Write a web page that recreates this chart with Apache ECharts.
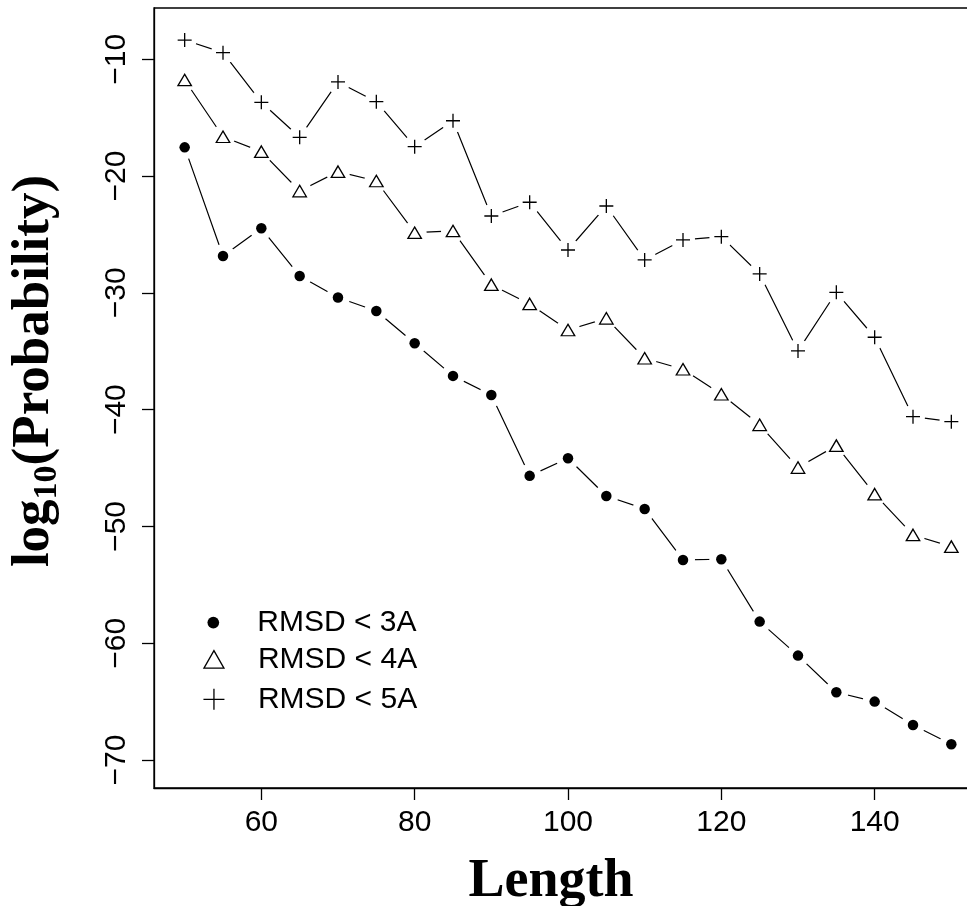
<!DOCTYPE html>
<html><head><meta charset="utf-8">
<script src="https://cdn.jsdelivr.net/npm/echarts@6/dist/echarts.min.js"></script>
<style>html,body{margin:0;padding:0;background:#fff}#c{width:967px;height:906px}</style>
</head><body><div id="c"></div>
<script>
const lengths = [50,55,60,65,70,75,80,85,90,95,100,105,110,115,120,125,130,135,140,145,150];
const rmsd3 = [-17.54,-26.84,-24.47,-28.55,-30.4,-31.55,-34.32,-37.11,-38.74,-45.67,-44.16,-47.39,-48.5,-52.87,-52.81,-58.15,-61.06,-64.2,-65.0,-67.0,-68.65];
const rmsd4 = [-11.77,-16.63,-17.91,-21.28,-19.62,-20.42,-24.85,-24.7,-29.3,-30.95,-33.18,-32.18,-35.6,-36.54,-38.68,-41.3,-44.96,-43.08,-47.24,-50.73,-51.73];
const rmsd5 = [-8.35,-9.43,-13.68,-16.68,-11.94,-13.63,-17.48,-15.26,-23.42,-22.24,-26.33,-22.56,-27.18,-25.47,-25.19,-28.38,-34.97,-29.95,-33.8,-40.6,-41.03];
const xTicks = [60,80,100,120,140];
const yTicks = [-70,-60,-50,-40,-30,-20,-10];
const seriesNames = ['RMSD < 3A','RMSD < 4A','RMSD < 5A'];
const xTitle = 'Length';

const pairs = arr => lengths.map((x,i)=>[x, arr[i]]);
const PLUS = 'path://M0,-7L0,7M-7,0L7,0';
const markers = [
  {symbol:'circle', size:10.5, lw:11.7, lh:11.7, itemStyle:{color:'#000', opacity:1}},
  {symbol:'triangle', size:[13.5,11.5], lw:20, lh:17.5, itemStyle:{color:'#fff', borderColor:'#000', borderWidth:1.3, opacity:1}},
  {symbol:PLUS, size:14, lw:21, lh:21, itemStyle:{color:'rgba(0,0,0,0)', borderColor:'#000', borderWidth:1.3, opacity:1}}
];
const datasets = [rmsd3, rmsd4, rmsd5];
const series = [];
datasets.forEach((arr,k)=>{
  series.push({type:'line', name:'line'+k, data:pairs(arr), showSymbol:false, symbol:'none',
    lineStyle:{color:'#000', width:1.2}, z:2, silent:true, emphasis:{disabled:true}});
});
datasets.forEach((arr,k)=>{
  series.push({type:'scatter', name:'halo'+k, data:pairs(arr), symbol:'circle', symbolSize:24,
    itemStyle:{color:'#fff', opacity:1}, z:3, silent:true, emphasis:{disabled:true}});
});
datasets.forEach((arr,k)=>{
  const m = markers[k];
  series.push({type:'scatter', name:seriesNames[k], data:pairs(arr), symbol:m.symbol, symbolSize:m.size,
    itemStyle:m.itemStyle, z:4, emphasis:{disabled:true}});
});
const legendCenterX = 213.3, legendTextX = 257.3;
const legendCenters = [622.6, 659.4, 699.3];
const fmt = v => String(v).replace('-', '\u2212');
const chart = echarts.init(document.getElementById('c'), null, {renderer:'canvas'});
chart.setOption({
  animation:false,
  backgroundColor:'#fff',
  grid:{left:154, top:8, width:828, height:780, show:true, borderColor:'#000', borderWidth:1.3,
    backgroundColor:'rgba(0,0,0,0)', containLabel:false, outerBoundsMode:'none'},
  xAxis:{type:'value', min:46, max:154,
    axisLine:{show:true, onZero:false, lineStyle:{color:'#000', width:1.3}},
    axisTick:{show:true, inside:false, length:12, customValues:xTicks, lineStyle:{color:'#000', width:1.3}},
    axisLabel:{show:true, customValues:xTicks, margin:20, fontSize:30, fontFamily:'Liberation Sans', color:'#000'},
    splitLine:{show:false}},
  yAxis:{type:'value', min:-72.398, max:-5.607,
    axisLine:{show:true, onZero:false, lineStyle:{color:'#000', width:1.3}},
    axisTick:{show:true, inside:false, length:12, customValues:yTicks, lineStyle:{color:'#000', width:1.3}},
    axisLabel:{show:true, customValues:yTicks, rotate:90, margin:22, fontSize:30, fontFamily:'Liberation Sans', color:'#000', formatter:fmt},
    splitLine:{show:false}},
  legend:[0,1,2].map(k=>({
    data:[{name:seriesNames[k], icon:(k===0?'circle':k===1?'triangle':PLUS), itemStyle:markers[k].itemStyle}],
    left:legendCenterX - markers[k].lw/2, top:legendCenters[k] - 15, orient:'vertical',
    itemWidth:markers[k].lw, itemHeight:markers[k].lh, symbolKeepAspect:false,
    padding:0, itemGap:0, selectedMode:false,
    textStyle:{fontFamily:'Liberation Sans', fontSize:30, color:'#000',
      padding:[0,0,0, legendTextX - (legendCenterX + markers[k].lw/2) - 5]}
  })),
  graphic:[
    {type:'text', x:551, y:882, silent:true,
      style:{text:xTitle, font:'bold 54px "Liberation Serif"', fill:'#000', align:'center', verticalAlign:'middle'}},
    {type:'text', x:34, y:371, rotation:Math.PI/2, silent:true,
      style:{text:'{a|log}{b|10}{a|(Probability)}', align:'center', verticalAlign:'middle',
        rich:{a:{fontFamily:'Liberation Serif', fontWeight:'bold', fontSize:53, lineHeight:60, fill:'#000'},
              b:{fontFamily:'Liberation Serif', fontWeight:'bold', fontSize:34, lineHeight:30, verticalAlign:'bottom', fill:'#000'}}}}
  ],
  series:series
});
</script></body></html>
